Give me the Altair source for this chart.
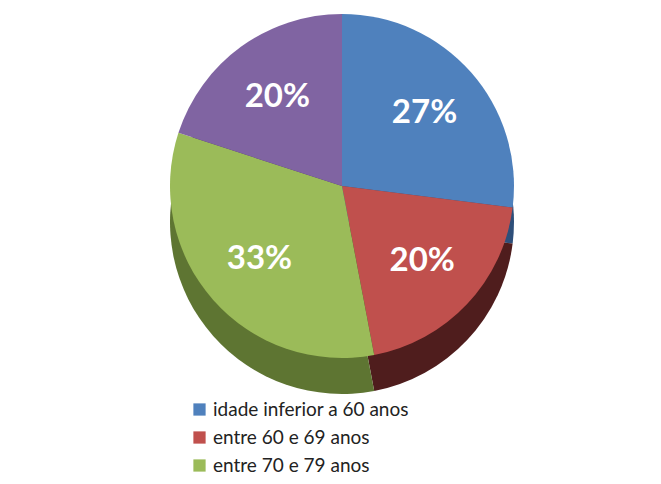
import altair as alt
import pandas as pd

categories = ["idade inferior a 60 anos", "entre 60 e 69 anos", "entre 70 e 79 anos", "80 anos ou mais"]
values = [27, 20, 33, 20]
labels = ["27%", "20%", "33%", "20%"]
colors = ["#4F81BD", "#C0504D", "#9BBB59", "#8064A2"]
side_colors = ["#2E4F7A", "#4F1D1D", "#5E7532", "#4A3864"]

df = pd.DataFrame({"cat": categories, "val": values, "lab": labels, "order": list(range(len(categories)))})

cx, cy = 334, 178
depth = 36
R = 172

base = alt.Chart(df).encode(
    theta=alt.Theta("val:Q", stack=True),
    order=alt.Order("order:Q"),
)

side = base.mark_arc(outerRadius=R).encode(
    x=alt.value(cx),
    y=alt.value(cy + depth),
    color=alt.Color("cat:N", sort=categories,
                    scale=alt.Scale(domain=categories, range=side_colors), legend=None),
)

pie = base.mark_arc(outerRadius=R).encode(
    x=alt.value(cx),
    y=alt.value(cy),
    color=alt.Color(
        "cat:N",
        sort=categories,
        scale=alt.Scale(domain=categories, range=colors),
        legend=alt.Legend(
            title=None,
            orient="none",
            legendX=182,
            legendY=392,
            direction="vertical",
            symbolType="square",
            symbolSize=150,
            symbolStrokeWidth=0,
            labelFontSize=19,
            labelFont="Lato",
            labelColor="#222222",
            rowPadding=8,
            labelLimit=400,
        ),
    ),
)

text = base.mark_text(radius=110, font="Lato", fontWeight="bold", fontSize=33, color="white").encode(
    x=alt.value(cx),
    y=alt.value(cy),
    text="lab:N",
)

chart = (
    alt.layer(side, pie, text)
    .resolve_scale(color="independent")
    .properties(width=645, height=468, autosize=alt.AutoSizeParams(type="none"), padding=0)
    .configure_view(stroke=None)
)

chart.save("out.html", embed_options={"renderer": "svg", "actions": False})
